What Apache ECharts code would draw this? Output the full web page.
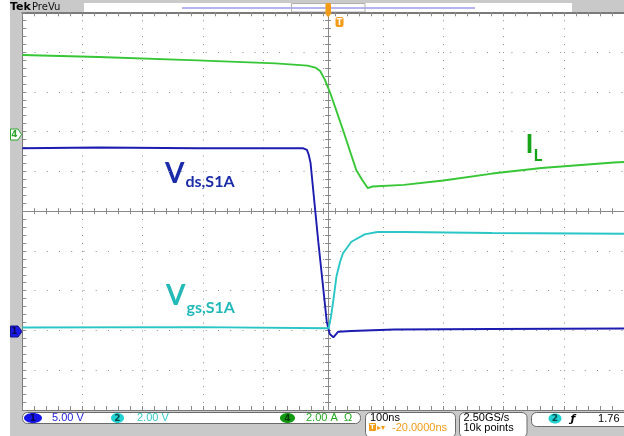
<!DOCTYPE html>
<html>
<head>
<meta charset="utf-8">
<script src="https://cdn.jsdelivr.net/npm/echarts@6/dist/echarts.min.js"></script>
<style>
html,body{margin:0;padding:0;background:#fff;}
#c{width:624px;height:436px;}
</style>
</head>
<body>
<div id="c"></div>
<script>
// ---- data (time in ns, 100 ns/div) ----
const vdsTime  = [-500, -373, -209, -79, -33, -27, -24, -21, -8, 6, 11, 17, 20, 25, 47, 118, 281, 500];
const vdsVolts = [22.9, 23.0, 22.9, 22.9, 22.9, 22.7, 22.1, 21.1, 11.1, 1.1, -0.45, -0.86, -0.79, -0.16, -0.07, 0.12, 0.18, 0.25];

const vgsTime  = [-500, -209, 9, 13, 17, 22, 28, 33, 47, 69, 90, 134, 281, 500];
const vgsVolts = [0.15, 0.17, 0.11, 0.69, 1.53, 2.70, 3.44, 3.88, 4.46, 4.83, 4.95, 4.95, 4.90, 4.86];

const ilTime = [-500, -373, -209, -79, -26, -13, -5, 3, 13, 33, 55, 65, 74, 82, 134, 200, 281, 363, 483, 500];
const ilAmps = [3.85, 3.75, 3.58, 3.43, 3.32, 3.22, 3.05, 2.60, 1.84, 0.08, -1.93, -2.43, -2.84, -2.76, -2.68, -2.46, -2.11, -1.83, -1.55, -1.53];

// channel scales (per division) and readout texts
const ch1Scale = 5, ch2Scale = 2, ch4Scale = 2;
const ch1Pos = -3, ch2Pos = -3, ch4Pos = 2;     // ground marker position in divisions
const readCh1 = '5.00 V', readCh2 = '2.00 V', readCh4 = '2.00 A';
const readTime = '100ns', readDelay = '-20.0000ns';
const readRate = '2.50GS/s', readPoints = '10k points';
const readTrig = '1.76';

function pairs(xs, ys){ return xs.map((x,i)=>[x, ys[i]]); }
function rangeFor(scale, pos){ return [(-5 - pos)*scale, (5 - pos)*scale]; }

const G = {left:22.3, top:12.3, width:611.4, height:397.7};
const gray = '#7a7a7a';
const tickGray = '#8a8a8a';

const chart = echarts.init(document.getElementById('c'), null, {renderer:'canvas'});

const r1 = rangeFor(ch1Scale, ch1Pos), r2 = rangeFor(ch2Scale, ch2Pos), r4 = rangeFor(ch4Scale, ch4Pos);

function xAx(extra){
  return Object.assign({type:'value', min:-500, max:500, axisLabel:{show:false},
    splitLine:{show:false}, axisTick:{show:false}, axisLine:{show:false, onZero:false}}, extra);
}
function yAx(extra){
  return Object.assign({type:'value', min:-5, max:5, axisLabel:{show:false},
    splitLine:{show:false}, axisTick:{show:false}, axisLine:{show:false, onZero:false}}, extra);
}

const option = {
  animation:false,
  backgroundColor:'#ffffff',
  grid:{left:G.left, top:G.top, width:G.width, height:G.height, show:true, backgroundColor:'#ffffff', borderWidth:0},
  xAxis:[
    xAx({interval:100, splitLine:{show:true, lineStyle:{color:'#8c8c8c', width:1, type:[1,6.954]}}}),
    xAx({position:'bottom', interval:20, axisLine:{show:true, onZero:false, lineStyle:{color:gray, width:1}},
         axisTick:{show:true, inside:true, length:4, lineStyle:{color:tickGray}}}),
    xAx({position:'top', interval:20, axisLine:{show:true, onZero:false, lineStyle:{color:gray, width:2}},
         axisTick:{show:true, inside:true, length:4, lineStyle:{color:tickGray}}}),
    xAx({position:'bottom', offset:-G.height/2, interval:20, axisLine:{show:true, onZero:false, lineStyle:{color:'#8a8a8a', width:1}},
         axisTick:{show:true, inside:true, length:3, lineStyle:{color:tickGray}}}),
    xAx({position:'bottom', offset:-G.height/2, interval:20,
         axisTick:{show:true, inside:false, length:3, lineStyle:{color:tickGray}}})
  ],
  yAxis:[
    yAx({interval:1, splitLine:{show:true, lineStyle:{color:'#8c8c8c', width:1, type:[1,11.228]}}}),
    yAx({position:'left', interval:0.2, axisLine:{show:true, onZero:false, lineStyle:{color:gray, width:1}},
         axisTick:{show:true, inside:true, length:4, lineStyle:{color:tickGray}}}),
    yAx({position:'left', offset:-G.width/2, interval:0.2, axisLine:{show:true, onZero:false, lineStyle:{color:'#8a8a8a', width:1}},
         axisTick:{show:true, inside:true, length:3, lineStyle:{color:tickGray}}}),
    yAx({position:'left', offset:-G.width/2, interval:0.2,
         axisTick:{show:true, inside:false, length:3, lineStyle:{color:tickGray}}}),
    {type:'value', show:false, min:r1[0], max:r1[1]},
    {type:'value', show:false, min:r2[0], max:r2[1]},
    {type:'value', show:false, min:r4[0], max:r4[1]}
  ],
  series:[
    {name:'Vds', type:'line', xAxisIndex:0, yAxisIndex:4, data:pairs(vdsTime, vdsVolts),
     showSymbol:false, lineStyle:{color:'#1c1cb0', width:1.9}, z:3},
    {name:'Vgs', type:'line', xAxisIndex:0, yAxisIndex:5, data:pairs(vgsTime, vgsVolts),
     showSymbol:false, lineStyle:{color:'#2ac6c6', width:1.9}, z:4},
    {name:'IL', type:'line', xAxisIndex:0, yAxisIndex:6, data:pairs(ilTime, ilAmps),
     showSymbol:false, lineStyle:{color:'#36c636', width:1.9}, z:5}
  ],
  graphic:{elements:[
    // surrounding gray frame
    {type:'rect', shape:{x:10, y:0, width:614, height:12}, style:{fill:'#c9c9c9'}, z:-10},
    {type:'rect', shape:{x:10, y:0, width:12.3, height:436}, style:{fill:'#c9c9c9'}, z:-10},
    {type:'rect', shape:{x:10, y:410.5, width:614, height:26}, style:{fill:'#c9c9c9'}, z:-10},
    // top bar
    {type:'text', style:{x:10, y:7.5, text:'Tek', fill:'#000', font:'bold 11px "DejaVu Sans"', verticalAlign:'middle'}},
    {type:'text', style:{x:32, y:7.5, text:'PreVu', fill:'#111', font:'10px "DejaVu Sans"', verticalAlign:'middle'}},
    {type:'rect', shape:{x:84, y:3, width:488, height:9}, style:{fill:'#ffffff'}},
    {type:'line', shape:{x1:182, y1:8, x2:475, y2:8}, style:{stroke:'#6a6ae0', lineWidth:1}},
    {type:'rect', shape:{x:291.5, y:3.5, width:73.5, height:8.5}, style:{fill:'none', stroke:'#b0b0b0', lineWidth:1}},
    // trigger position marker
    {type:'rect', shape:{x:325.5, y:3, width:5.5, height:10, r:1.5}, style:{fill:'#f29b17'}, z:10},
    {type:'polygon', shape:{points:[[324.5,12.5],[332,12.5],[328.2,17.5]]}, style:{fill:'#f29b17'}, z:10},
    {type:'rect', shape:{x:335.5, y:17, width:8, height:10, r:2}, style:{fill:'#f29b17'}, z:10},
    {type:'text', style:{x:339.5, y:22.5, text:'T', fill:'#fff', font:'bold 8px "DejaVu Sans"', align:'center', verticalAlign:'middle'}, z:11},
    // channel ground markers
    {type:'polygon', shape:{points:[[10.5,129],[18,129],[21.5,134.5],[18,140],[10.5,140]]}, style:{fill:'#fff', stroke:'#2aa52a', lineWidth:1}},
    {type:'text', style:{x:14.5, y:134.7, text:'4', fill:'#2aa52a', font:'bold 9px "DejaVu Sans"', align:'center', verticalAlign:'middle'}},
    {type:'polygon', shape:{points:[[10.5,326],[18,326],[22,331.5],[18,337],[10.5,337]]}, style:{fill:'#1a1ae6', stroke:'#10108a', lineWidth:1}},
    {type:'text', style:{x:14.5, y:331.7, text:'1', fill:'#0a0a50', font:'bold 9px "DejaVu Sans"', align:'center', verticalAlign:'middle'}},
    // trace labels
    {type:'text', style:{x:165, y:174, text:'V', fill:'#1b2ca8', font:'bold 28px Lato', verticalAlign:'middle'}},
    {type:'text', style:{x:185.5, y:181.5, text:'ds,S1A', fill:'#1b2ca8', font:'bold 16px Lato', verticalAlign:'middle'}},
    {type:'text', style:{x:166, y:295.5, text:'V', fill:'#22b9b9', font:'bold 28px Lato', verticalAlign:'middle'}},
    {type:'text', style:{x:186.5, y:307.5, text:'gs,S1A', fill:'#22b9b9', font:'bold 16px Lato', verticalAlign:'middle'}},
    {type:'text', style:{x:525.5, y:144, text:'I', fill:'#16a316', font:'bold 27px Lato', verticalAlign:'middle'}},
    {type:'text', style:{x:533.5, y:156, text:'L', fill:'#16a316', font:'bold 17px Lato', verticalAlign:'middle'}},
    // bottom readouts
    {type:'rect', shape:{x:22.5, y:412.5, width:338, height:11, r:5}, style:{fill:'#fff', stroke:'#6a6a6a', lineWidth:1}},
    {type:'ellipse', shape:{cx:33, cy:418, rx:9, ry:5}, style:{fill:'#1414e8'}},
    {type:'text', style:{x:33, y:418.3, text:'1', fill:'#06064a', font:'bold 9px "DejaVu Sans"', align:'center', verticalAlign:'middle'}},
    {type:'text', style:{x:52, y:418.3, text:readCh1, fill:'#2424d4', font:'11px "Liberation Sans"', verticalAlign:'middle'}},
    {type:'ellipse', shape:{cx:117.5, cy:418, rx:6.5, ry:5}, style:{fill:'#22d2d2'}},
    {type:'text', style:{x:117.5, y:418.3, text:'2', fill:'#064848', font:'bold 9px "DejaVu Sans"', align:'center', verticalAlign:'middle'}},
    {type:'text', style:{x:137, y:418.3, text:readCh2, fill:'#33c8c8', font:'11px "Liberation Sans"', verticalAlign:'middle'}},
    {type:'ellipse', shape:{cx:287.5, cy:418, rx:7.5, ry:5}, style:{fill:'#139a13'}},
    {type:'text', style:{x:287.5, y:418.3, text:'4', fill:'#033a03', font:'bold 9px "DejaVu Sans"', align:'center', verticalAlign:'middle'}},
    {type:'text', style:{x:306, y:418.3, text:readCh4, fill:'#22a822', font:'11px "Liberation Sans"', verticalAlign:'middle'}},
    {type:'text', style:{x:344, y:418.3, text:'\u03A9', fill:'#22a822', font:'11px "Liberation Sans"', verticalAlign:'middle'}},

    {type:'rect', shape:{x:365.5, y:412.5, width:90, height:25, r:5}, style:{fill:'#fff', stroke:'#6a6a6a', lineWidth:1}},
    {type:'text', style:{x:370, y:418.3, text:readTime, fill:'#000', font:'11px "Liberation Sans"', verticalAlign:'middle'}},
    {type:'rect', shape:{x:369, y:423, width:7, height:8, r:1}, style:{fill:'#f29b17'}},
    {type:'text', style:{x:372.5, y:427.3, text:'T', fill:'#fff', font:'bold 7px "DejaVu Sans"', align:'center', verticalAlign:'middle'}},
    {type:'text', style:{x:377, y:427.5, text:'\u25B8\u25BE', fill:'#f29b17', font:'8px "DejaVu Sans"', verticalAlign:'middle'}},
    {type:'text', style:{x:392, y:428.3, text:readDelay, fill:'#f29b17', font:'11px "Liberation Sans"', verticalAlign:'middle'}},

    {type:'rect', shape:{x:459.5, y:412.5, width:67.5, height:25, r:5}, style:{fill:'#fff', stroke:'#6a6a6a', lineWidth:1}},
    {type:'text', style:{x:463.5, y:418.3, text:readRate, fill:'#000', font:'11px "Liberation Sans"', verticalAlign:'middle'}},
    {type:'text', style:{x:463.5, y:428.3, text:readPoints, fill:'#000', font:'11px "Liberation Sans"', verticalAlign:'middle'}},

    {type:'rect', shape:{x:531.5, y:412.5, width:100, height:14, r:5}, style:{fill:'#fff', stroke:'#6a6a6a', lineWidth:1}},
    {type:'ellipse', shape:{cx:555, cy:418.5, rx:6.5, ry:5}, style:{fill:'#22d2d2'}},
    {type:'text', style:{x:555, y:418.8, text:'2', fill:'#064848', font:'bold 9px "DejaVu Sans"', align:'center', verticalAlign:'middle'}},
    {type:'text', style:{x:573, y:418.8, text:'\u0192', fill:'#000', font:'bold italic 11px "DejaVu Sans"', align:'center', verticalAlign:'middle'}},
    {type:'text', style:{x:619.5, y:418.8, text:readTrig, fill:'#000', font:'11px "Liberation Sans"', align:'right', verticalAlign:'middle'}}
  ]}
};
chart.setOption(option);
</script>
</body>
</html>
